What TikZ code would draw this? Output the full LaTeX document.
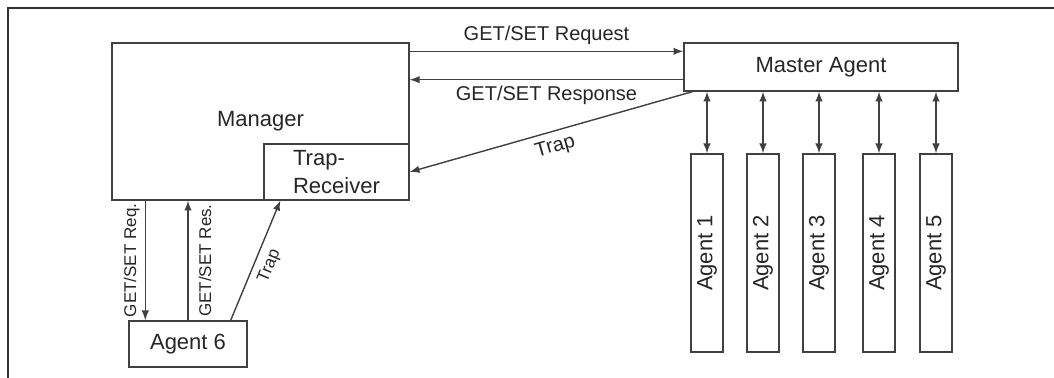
\documentclass[tikz,border=0pt]{standalone}
\usepackage{fontspec}
\setmainfont{Liberation Sans}
\usetikzlibrary{arrows}

\begin{document}
\begin{tikzpicture}[x=0.5pt,y=-0.5pt,>=latex,
  box/.style={draw=black!75,line width=.7pt,inner sep=0pt,text=black!85,font=\fontsize{11}{14}\selectfont},
  lbl/.style={inner sep=3pt,text=black!85,font=\fontsize{10}{12}\selectfont},
  sml/.style={inner sep=2.5pt,text=black!85,font=\fontsize{8.5}{10}\selectfont},
  link/.style={draw=black!75,line width=.7pt}]
\useasboundingbox (0,0) rectangle (1054,378);
\draw [black!80,line width=1pt] (8,378) -- (8,8) -- (1054,8);

\node [box,minimum width=148.5pt,minimum height=78.5pt] (Manager) at (260.5,121.5) {Manager};
\node [box,minimum width=72.5pt,minimum height=28pt,align=left,fill=white] (TrapRx) at (336.5,172) {Trap-\\Receiver};
\node [box,minimum width=59pt,minimum height=23pt] (Agent6) at (188,344) {Agent 6};
\node [box,minimum width=137pt,minimum height=24pt] (Master) at (821,67) {Master Agent};

% sub agents, standing upright
\foreach \i/\x in {1/707,2/763,3/819,4/879,5/936}
  \node [box,rotate=90,minimum width=99pt,minimum height=16pt] (A\i) at (\x,253) {Agent \i};

% manager <-> master agent
\draw [->,link] ([yshift=-4.5pt]Manager.north east) -- ([yshift=-4.5pt]Master.north west)
  node [midway,above,lbl] {GET/SET Request};
\draw [->,link] ([yshift=6pt]Master.south west) -- ([yshift=6pt]Master.south west -| Manager.east)
  node [midway,below,lbl] {GET/SET Response};
\draw [->,link] ([xshift=4.5pt]Master.south west) -- (TrapRx.east)
  node [midway,below,sloped,lbl] {Trap};

% master agent <-> sub agents
\foreach \i in {1,...,5}
  \draw [<->,link] (A\i.east |- Master.south) -- (A\i.east);

% manager <-> agent 6
\draw [->,link] ([xshift=17pt]Manager.south west) -- ([xshift=8.5pt]Agent6.north west)
  node [midway,above,rotate=90,sml] {GET/SET Req.};
\draw [->,link] (Agent6.north) -- (Agent6.north |- Manager.south)
  node [midway,below,rotate=90,sml,inner sep=5pt] {GET/SET Res.};
\draw [->,link] ([xshift=-8.5pt]Agent6.north east) -- ([xshift=8.5pt]TrapRx.south west)
  node [midway,below,sloped,sml,inner sep=3.5pt] {Trap};
\end{tikzpicture}
\end{document}
